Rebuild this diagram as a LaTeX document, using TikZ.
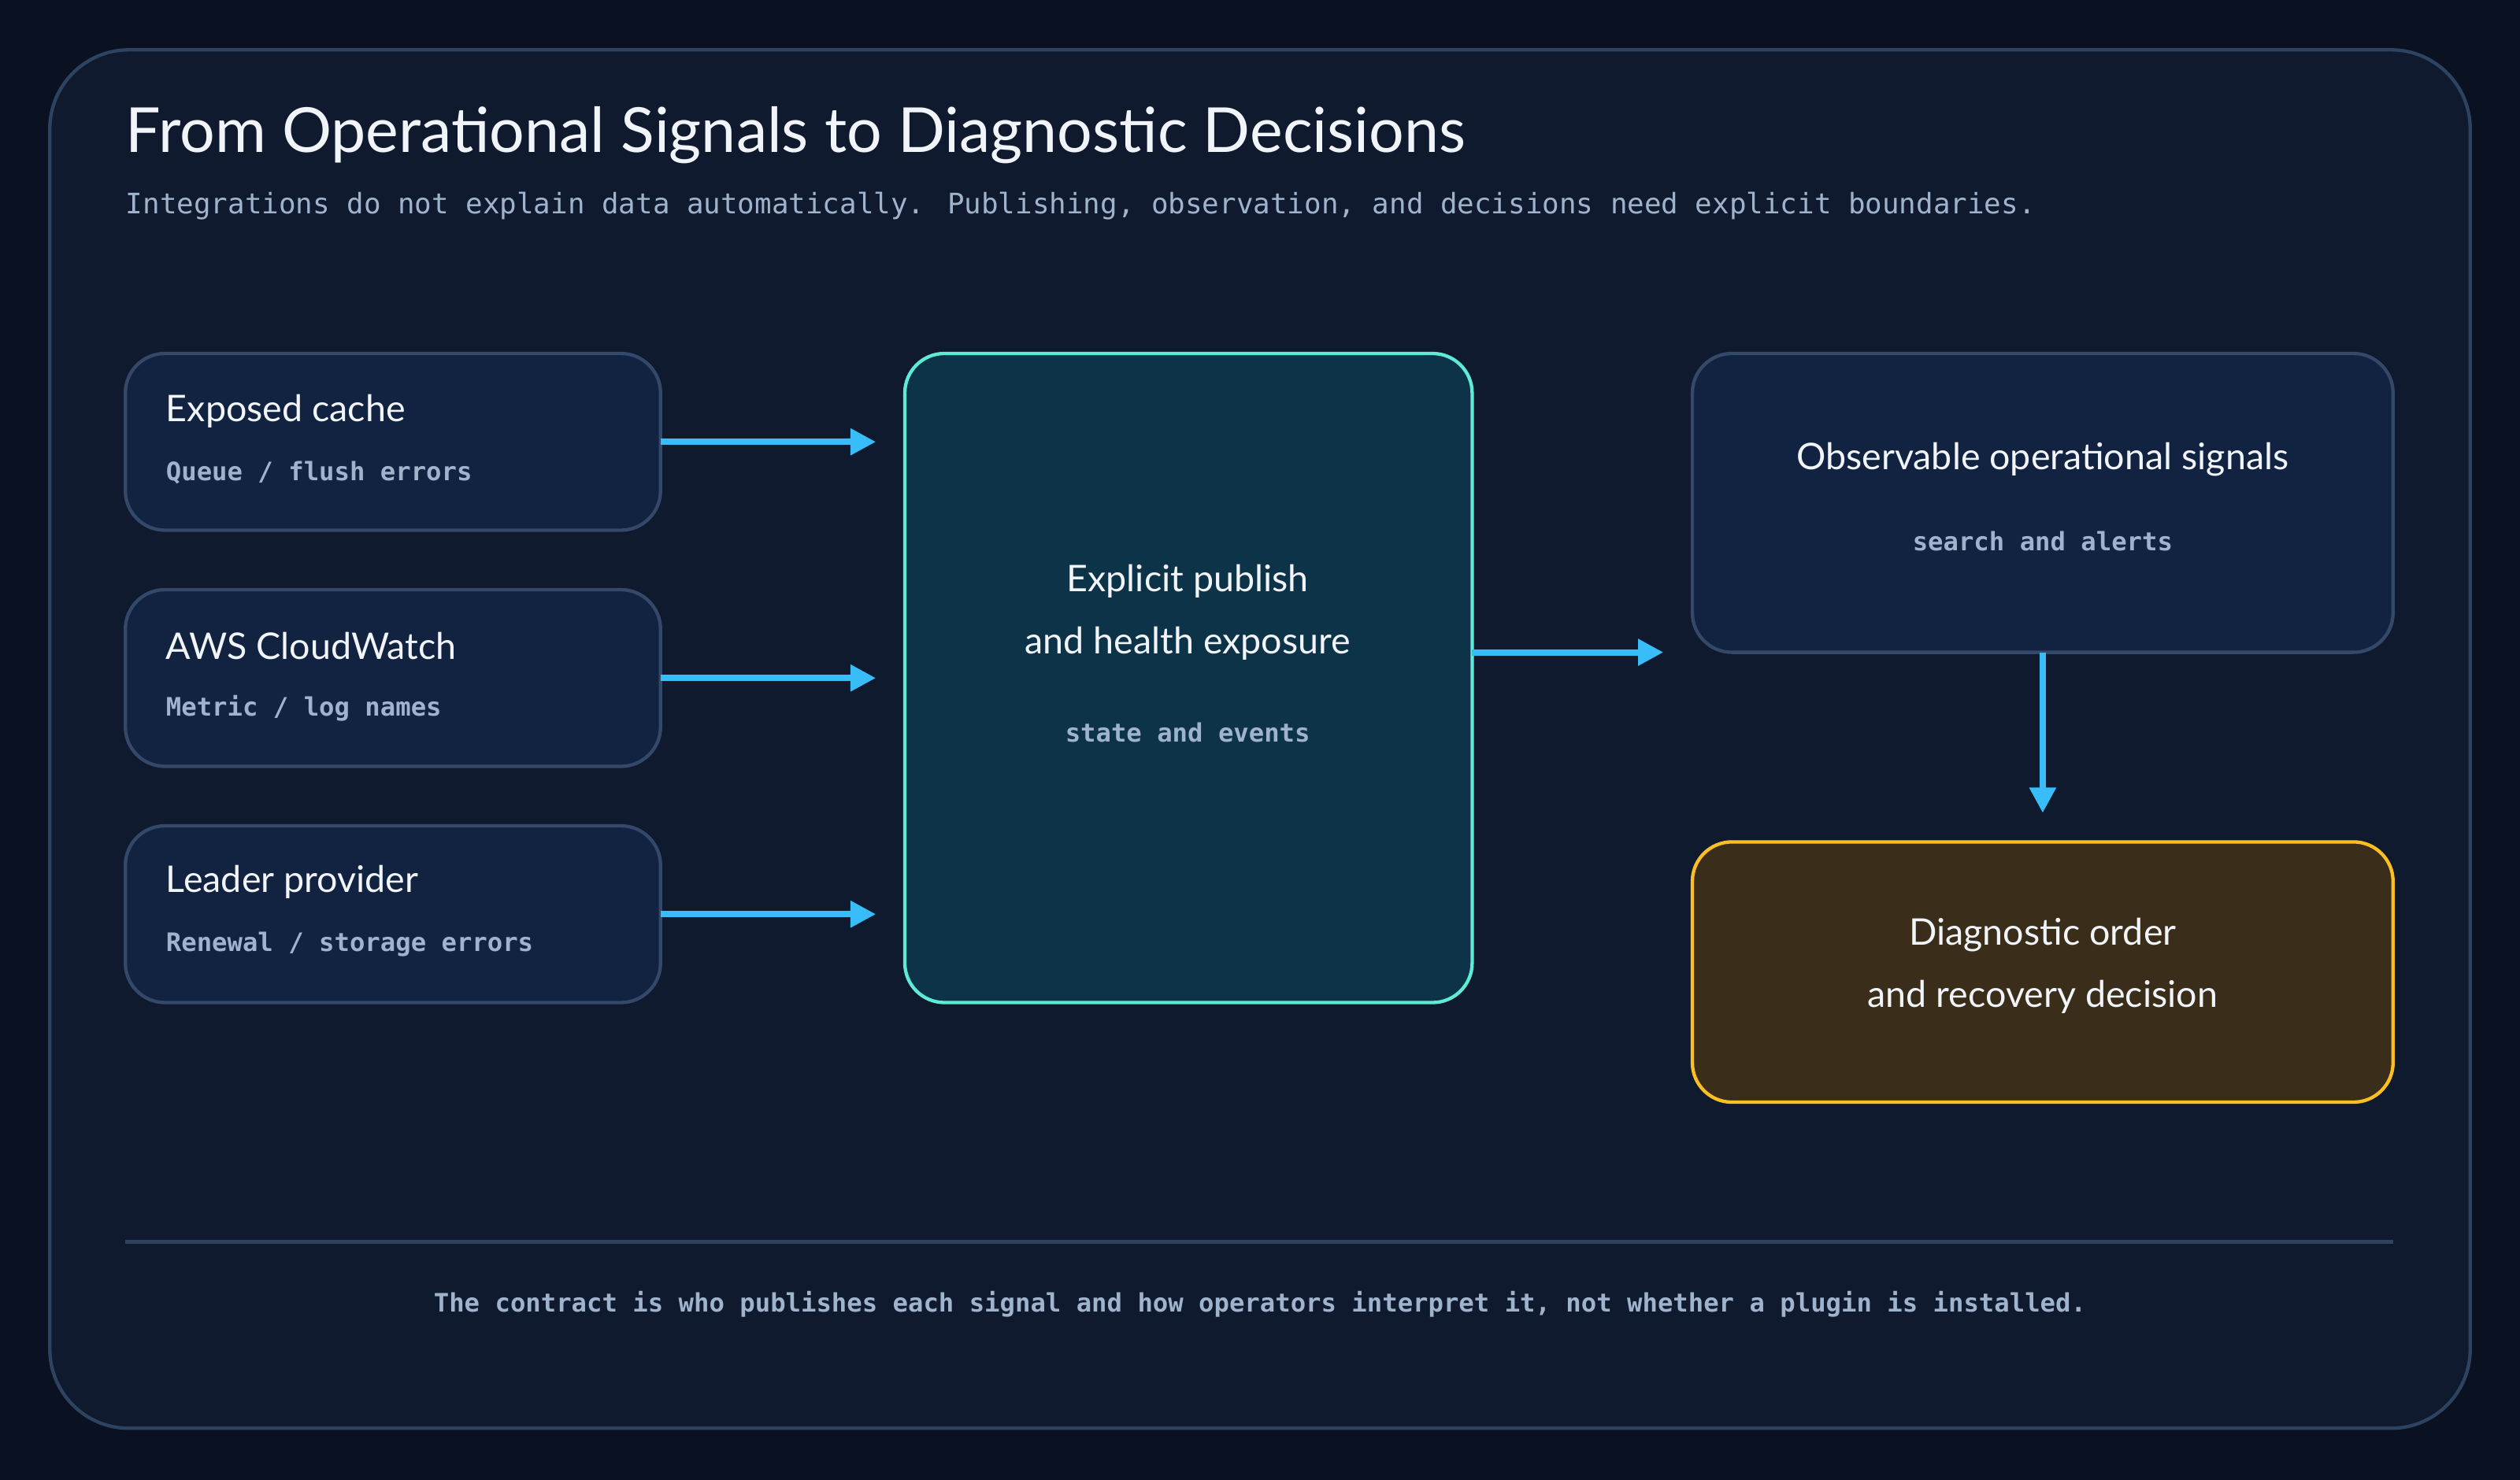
\documentclass[tikz,border=0pt]{standalone}
\usepackage{fontspec}
\setmainfont{Lato}
\newfontfamily\monof{DejaVu Sans Mono}
\usetikzlibrary{arrows.meta}
\definecolor{bgouter}{HTML}{0A1120}
\definecolor{bgpanel}{HTML}{0F1A2E}
\definecolor{panelline}{HTML}{2E4360}
\definecolor{boxfill}{HTML}{112340}
\definecolor{boxline}{HTML}{34496A}
\definecolor{hubfill}{HTML}{0C3347}
\definecolor{hubline}{HTML}{5EEAD4}
\definecolor{decfill}{HTML}{3A2E1A}
\definecolor{decline}{HTML}{FBBF24}
\definecolor{arrowc}{HTML}{38BDF8}
\definecolor{txtmain}{HTML}{F1F5F9}
\definecolor{txtsub}{HTML}{9FB3CC}
\tikzset{
  box/.style={draw=boxline, line width=1.2pt, fill=boxfill, rounded corners=14pt},
  title/.style={text=txtmain, font=\fontsize{13}{15}\selectfont, anchor=west, inner sep=0pt},
  sub/.style={text=txtsub, font=\monof\fontsize{9}{11}\selectfont\bfseries, anchor=west, inner sep=0pt},
  flow/.style={draw=arrowc, line width=2.2pt, -{Triangle[length=9pt,width=9pt]}, shorten >=18\unitlen}
}
\newlength{\unitlen}\setlength{\unitlen}{0.02cm}
\begin{document}
\begin{tikzpicture}[x=0.02cm, y=-0.02cm]
\fill[bgouter] (0,0) rectangle (1568,921);
\useasboundingbox (0,0) rectangle (1568,921);
\draw[panelline, fill=bgpanel, line width=1.2pt, rounded corners=28pt] (31,31) rectangle (1537,889);
\node[anchor=west, inner sep=0pt, text=txtmain, font=\fontsize{22}{25}\selectfont] (head) at (78,84) {From Operational Signals to Diagnostic Decisions};
\node[sub, font=\monof\fontsize{10}{12}\selectfont] (lede) at (78,128) {Integrations do not explain data automatically. Publishing, observation, and decisions need explicit boundaries.};
% sources
\draw[box] (78,220) rectangle (411,330);
\node[title] (t1) at (103,256) {Exposed cache};
\node[sub] (s1) at (103,294) {Queue / flush errors};
\coordinate (cache) at (411,275);
\draw[box] (78,367) rectangle (411,477);
\node[title] (t2) at (103,402) {AWS CloudWatch};
\node[sub] (s2) at (103,441) {Metric / log names};
\coordinate (cw) at (411,422);
\draw[box] (78,514) rectangle (411,624);
\node[title] (t3) at (103,549) {Leader provider};
\node[sub] (s3) at (103,588) {Renewal / storage errors};
\coordinate (leader) at (411,569);
% hub
\draw[box, draw=hubline, fill=hubfill] (563,220) rectangle (916,624);
\node[text=txtmain, font=\fontsize{13}{15}\selectfont, align=center] (ht) at (739,381) {Explicit publish\\[7pt]and health exposure};
\node[sub, anchor=center] (hs) at (739,456) {state and events};
\coordinate (hubw) at (563,406);
\coordinate (hube) at (916,406);
% outputs
\draw[box] (1053,220) rectangle (1489,406);
\node[text=txtmain, font=\fontsize{13}{15}\selectfont] (ot) at (1271,286) {Observable operational signals};
\node[sub, anchor=center] (os) at (1271,337) {search and alerts};
\coordinate (obsw) at (1053,406);
\coordinate (obss) at (1271,406);
\draw[box, draw=decline, fill=decfill] (1053,524) rectangle (1489,686);
\node[text=txtmain, font=\fontsize{13}{15}\selectfont, align=center] (dt) at (1271,601) {Diagnostic order\\[7pt]and recovery decision};
\coordinate (decn) at (1271,524);
% connectors
\draw[flow] (cache) -- (cache -| hubw);
\draw[flow] (cw) -- (cw -| hubw);
\draw[flow] (leader) -- (leader -| hubw);
\draw[flow] (hube) -- (obsw);
\draw[flow] (obss) -- (decn);
% footer
\draw[panelline, line width=1.2pt] (78,773) -- (1489,773);
\node[sub, anchor=center] (foot) at (784,812) {The contract is who publishes each signal and how operators interpret it, not whether a plugin is installed.};
\end{tikzpicture}
\end{document}
